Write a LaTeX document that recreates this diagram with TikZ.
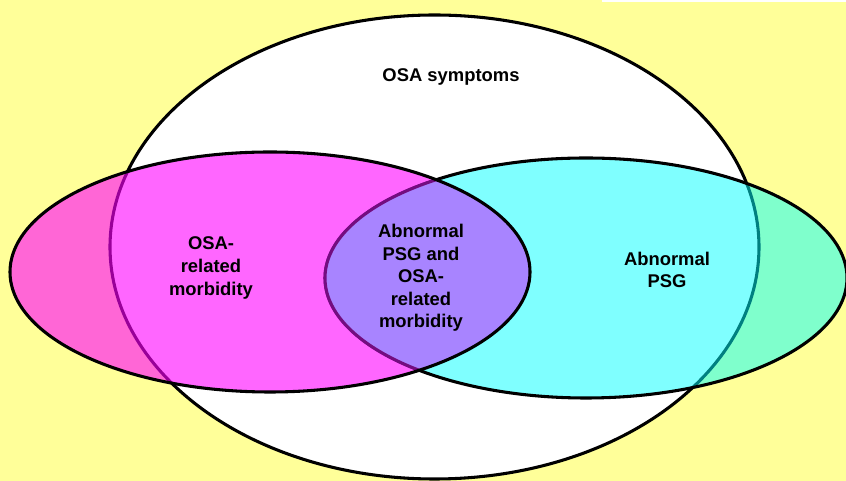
\documentclass[tikz,border=0pt]{standalone}
\usepackage{fontspec}
\setmainfont{Liberation Sans}
\definecolor{bgyellow}{HTML}{FFFF99}
\definecolor{setmagenta}{rgb}{1,0,1}
\definecolor{setcyan}{rgb}{0,1,1}
\definecolor{lensfill}{HTML}{A884FF}
\definecolor{lensline}{rgb}{0.45,0.05,0.5}
\begin{document}
\begin{tikzpicture}[x=0.75pt,y=0.75pt,line width=2.3pt,
    set line/.style={draw=black},
    label node/.style={align=center,font=\fontsize{13.8}{16.9}\selectfont\bfseries}]
        \useasboundingbox (0,0) rectangle (846,481);
        \fill[bgyellow] (0,0) rectangle (846,481);
        \fill[white] (602,479) rectangle (846,481);

        % symptoms, PSG, morbidity
        \draw[set line, fill=white] (434.5,234) ellipse [x radius=324.5, y radius=232];
        \fill[setcyan, fill opacity=0.5] (586,203) ellipse [x radius=261, y radius=120];
        \draw[set line] (586,203) ellipse [x radius=261, y radius=120];
        \fill[setmagenta, fill opacity=0.6] (270,209) ellipse [x radius=260, y radius=120];

        % overlap of the two
        \begin{scope}
            \clip (270,209) ellipse [x radius=260, y radius=120];
            \fill[lensfill] (586,203) ellipse [x radius=261, y radius=120];
            \draw[lensline] (586,203) ellipse [x radius=261, y radius=120];
        \end{scope}
        \draw[set line] (270,209) ellipse [x radius=260, y radius=120];

        \node[label node] at (451,404) (symptoms) {OSA symptoms};
        \node[label node] at (211,213) (morbidity) {OSA-\\related\\morbidity};
        \node[label node] at (421,203) (both) {Abnormal\\PSG and\\OSA-\\related\\morbidity};
        \node[label node] at (667,211) (psg) {Abnormal\\PSG};
\end{tikzpicture}
\end{document}
